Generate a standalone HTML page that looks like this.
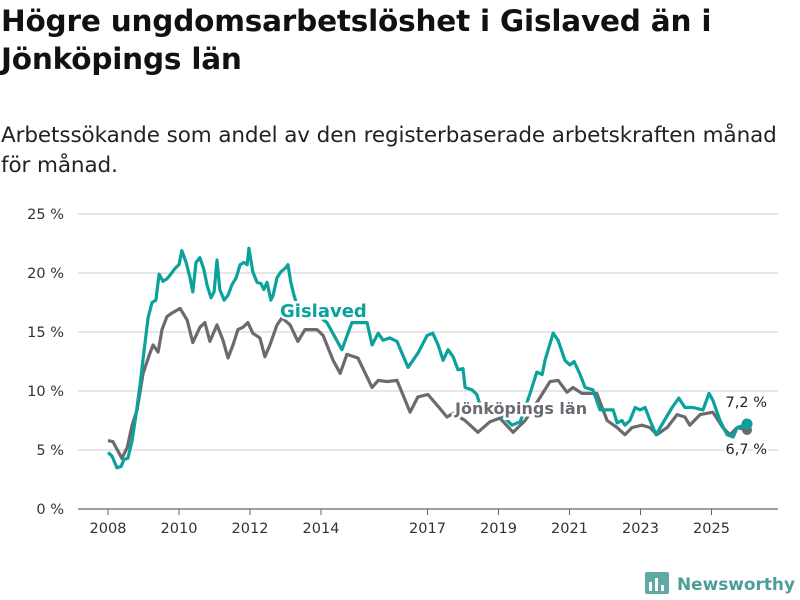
<!DOCTYPE html>
<html><head><meta charset="utf-8"><style>
body{margin:0;width:800px;height:600px;background:#fff;font-family:"DejaVu Sans","Liberation Sans",sans-serif;overflow:hidden;position:relative}
h1{position:absolute;left:1px;top:2px;margin:0;font-size:29.5px;line-height:38px;font-weight:bold;color:#111;white-space:nowrap;letter-spacing:-0.2px}
.sub{position:absolute;left:1px;top:121px;margin:0;font-size:21.5px;line-height:30px;color:#222;white-space:nowrap;letter-spacing:-0.1px}
svg{position:absolute;left:0;top:0}
</style></head><body>
<h1>Högre ungdomsarbetslöshet i Gislaved än i<br>Jönköpings län</h1>
<p class="sub">Arbetssökande som andel av den registerbaserade arbetskraften månad<br>för månad.</p>
<svg id="chart" width="800" height="600"></svg>
<script>
const yTicks=[0,5,10,15,20,25];
const xTicks=[2008,2010,2012,2014,2017,2019,2021,2023,2025];
const gisDates=[2008.00,2008.11,2008.25,2008.37,2008.45,2008.56,2008.68,2008.79,2008.90,2009.01,2009.13,2009.24,2009.35,2009.44,2009.55,2009.66,2009.77,2009.89,2010.00,2010.08,2010.20,2010.31,2010.39,2010.48,2010.59,2010.70,2010.79,2010.90,2010.99,2011.07,2011.15,2011.27,2011.38,2011.49,2011.61,2011.72,2011.83,2011.92,2011.97,2012.08,2012.20,2012.31,2012.39,2012.48,2012.59,2012.65,2012.76,2012.87,2012.99,2013.07,2013.15,2013.24,2013.41,2013.69,2013.92,2014.17,2014.59,2014.87,2015.30,2015.44,2015.61,2015.75,2015.94,2016.14,2016.45,2016.73,2016.99,2017.15,2017.30,2017.44,2017.58,2017.72,2017.86,2018.00,2018.06,2018.25,2018.39,2018.56,2018.90,2019.18,2019.38,2019.61,2019.89,2020.08,2020.23,2020.31,2020.54,2020.68,2020.87,2021.01,2021.13,2021.30,2021.44,2021.66,2021.86,2022.23,2022.34,2022.48,2022.56,2022.70,2022.85,2022.99,2023.13,2023.27,2023.44,2023.63,2023.89,2024.08,2024.25,2024.48,2024.76,2024.93,2025.04,2025.24,2025.44,2025.61,2025.72,2026.00];
const gisValues=[4.8,4.5,3.5,3.6,4.2,4.3,5.8,8.0,10.5,13.3,16.2,17.5,17.7,19.9,19.3,19.5,19.9,20.4,20.7,21.9,20.9,19.6,18.4,20.9,21.3,20.3,19.0,17.9,18.4,21.1,18.6,17.7,18.1,19.0,19.6,20.7,20.9,20.7,22.1,20.1,19.2,19.1,18.6,19.2,17.7,18.1,19.6,20.1,20.4,20.7,19.2,18.1,16.4,16.2,16.4,15.8,13.5,15.8,15.8,13.9,14.9,14.3,14.5,14.2,12.0,13.2,14.7,14.9,13.9,12.6,13.5,12.9,11.8,11.9,10.3,10.1,9.7,8.0,8.4,7.7,7.1,7.4,9.8,11.6,11.4,12.6,14.9,14.3,12.6,12.2,12.5,11.4,10.3,10.1,8.4,8.4,7.3,7.5,7.1,7.5,8.6,8.4,8.6,7.5,6.3,7.3,8.6,9.4,8.6,8.6,8.4,9.8,9.2,7.5,6.3,6.1,6.9,7.2];
const jkpDates=[2008.00,2008.14,2008.39,2008.54,2008.68,2008.82,2008.99,2009.18,2009.27,2009.41,2009.52,2009.66,2009.80,2010.03,2010.23,2010.39,2010.59,2010.73,2010.87,2011.07,2011.24,2011.38,2011.52,2011.66,2011.80,2011.94,2012.08,2012.28,2012.42,2012.56,2012.76,2012.90,2013.13,2013.35,2013.55,2013.89,2014.06,2014.34,2014.54,2014.73,2015.04,2015.44,2015.61,2015.86,2016.14,2016.51,2016.73,2017.01,2017.27,2017.55,2017.72,2018.06,2018.42,2018.76,2019.04,2019.41,2019.75,2020.03,2020.45,2020.68,2020.93,2021.10,2021.35,2021.77,2022.06,2022.34,2022.56,2022.76,2023.04,2023.27,2023.46,2023.75,2024.03,2024.25,2024.39,2024.68,2025.04,2025.32,2025.52,2025.72,2026.00];
const jkpValues=[5.8,5.7,4.3,5.2,7.1,8.4,11.5,13.2,13.9,13.3,15.2,16.3,16.6,17.0,16.0,14.1,15.4,15.8,14.2,15.6,14.3,12.8,13.9,15.2,15.4,15.8,14.9,14.5,12.9,13.9,15.6,16.2,15.6,14.2,15.2,15.2,14.7,12.6,11.5,13.1,12.8,10.3,10.9,10.8,10.9,8.2,9.5,9.7,8.8,7.8,8.1,7.5,6.5,7.4,7.7,6.5,7.5,8.8,10.8,10.9,9.9,10.3,9.8,9.8,7.5,6.9,6.3,6.9,7.1,6.9,6.3,6.9,8.0,7.8,7.1,8.0,8.2,6.9,6.3,6.9,6.7];
const NS="http://www.w3.org/2000/svg";
const svg=document.getElementById('chart');
const X=v=>108+(v-2008)*35.5;
const Y=v=>509-v*11.8;
const F='DejaVu Sans, Liberation Sans, sans-serif';
function mk(tag,attrs,parent){const e=document.createElementNS(NS,tag);for(const k in attrs)e.setAttribute(k,attrs[k]);(parent||svg).appendChild(e);return e;}
yTicks.forEach(t=>{
  const l=mk('line',{x1:78,x2:778,y1:Y(t),y2:Y(t),stroke:t===0?'#666':'#dddddd','stroke-width':t===0?1.2:1.5});
  
  
  const tx=mk('text',{x:64,y:Y(t)+5,'text-anchor':'end','font-size':14.5,fill:'#333','font-family':F});
  tx.textContent=t+' %';
  
  
});
xTicks.forEach(t=>{
  const l=mk('line',{x1:X(t),x2:X(t),y1:509,y2:515,stroke:'#666','stroke-width':1});
  
  
  const tx=mk('text',{x:X(t),y:533,'text-anchor':'middle','font-size':14.5,fill:'#333','font-family':F});
  tx.textContent=t;
  
  
});
function line(d,v){return d.map((x,i)=>(i?'L':'M')+X(x).toFixed(1)+','+Y(v[i]).toFixed(1)).join('');}
const pj=mk('path',{d:line(jkpDates,jkpValues),fill:'none',stroke:'#6b6a70','stroke-width':3.2,'stroke-linejoin':'round'});


const pg=mk('path',{d:line(gisDates,gisValues),fill:'none',stroke:'#0aa29a','stroke-width':3.2,'stroke-linejoin':'round'});


const ej=mk('circle',{cx:X(jkpDates[jkpDates.length-1]),cy:Y(jkpValues[jkpValues.length-1]),r:5,fill:'#6b6a70'});


const eg=mk('circle',{cx:X(gisDates[gisDates.length-1]),cy:Y(gisValues[gisValues.length-1]),r:5.5,fill:'#0aa29a'});


function lab(txt,x,y,col,name,size,bold,anchor){
  const t=mk('text',{x:x,y:y,'font-size':size,'font-weight':bold?'bold':'normal',fill:col,'text-anchor':anchor||'start',stroke:'#fff','stroke-width':bold?5:4,'paint-order':'stroke','font-family':F});
  t.textContent=txt;
  
  
}
lab('Gislaved',280,317,'#0aa29a','gislaved-label',18,true);
lab('Jönköpings län',455,414,'#6b6a70','jonkoping-label',16,true);
lab('7,2 %',767,407,'#222','gislaved-end-value',14.5,false,'end');
lab('6,7 %',767,454,'#222','jonkoping-end-value',14.5,false,'end');
const g=mk('g',{});


mk('rect',{x:645,y:572,width:24,height:22,rx:2,fill:'#5fa8a3'},g);
mk('rect',{x:649,y:582,width:3,height:9,fill:'#fff'},g);
mk('rect',{x:655,y:578,width:3,height:13,fill:'#fff'},g);
mk('rect',{x:661,y:585,width:3,height:6,fill:'#fff'},g);
const lt=mk('text',{x:677,y:590,'font-size':17,'font-weight':'bold',fill:'#4e9e98','font-family':F,textLength:118,lengthAdjust:'spacingAndGlyphs'},g);
lt.textContent='Newsworthy';
</script>
</body></html>
